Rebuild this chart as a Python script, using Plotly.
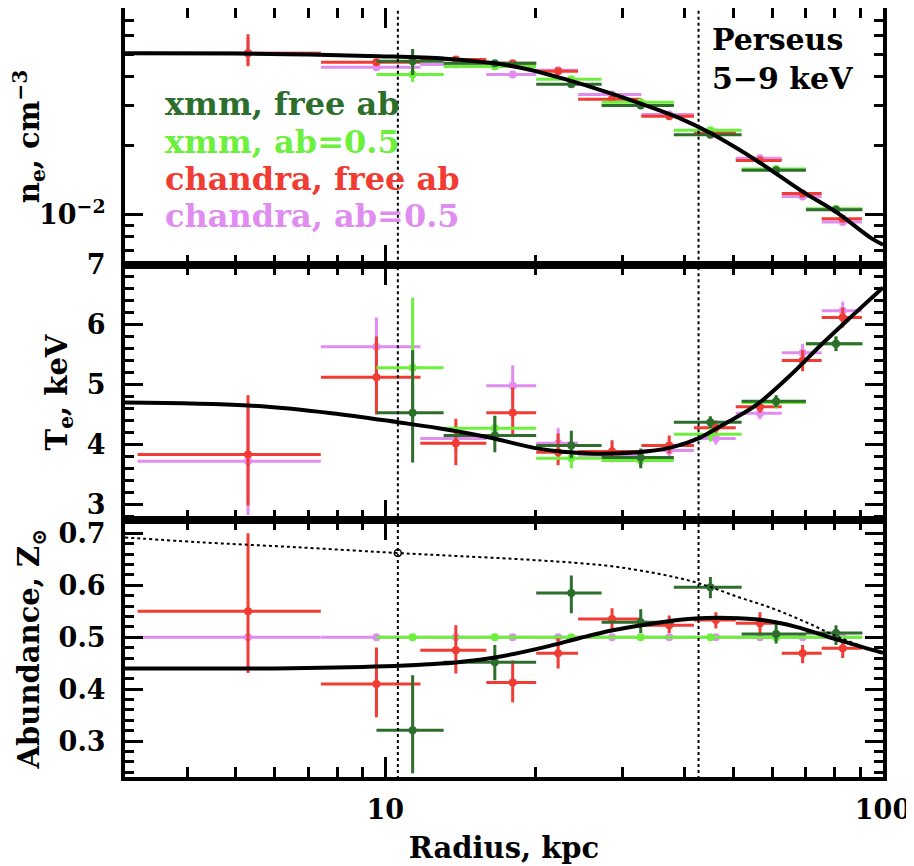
import plotly.graph_objects as go
from plotly.subplots import make_subplots

# ---------------- data ----------------
# Chandra radial bins (kpc): centres and half widths
ch_r = [5.3, 9.6, 13.86, 18.03, 22.25, 28.55, 37.2, 46.15, 56.6, 68.95, 83.0]
ch_dr = [2.12, 2.17, 2.1, 2.07, 2.15, 4.15, 4.5, 4.45, 6.0, 6.35, 7.7]
# XMM radial bins (kpc)
xmm_r = [11.35, 16.6, 23.65, 32.6, 45.0, 61.0, 80.45]
xmm_dr = [1.75, 3.5, 3.55, 5.4, 7.0, 9.0, 10.45]

# electron density, cm^-3
ne_ch_free = [0.0505, 0.0461, 0.0474, 0.0456, 0.0421, 0.0318, 0.0268, 0.0226, 0.0172, 0.01235, 0.0096]
ne_ch_free_up = [0.0105, 0.0012, 0.0012, 0.0011, 0.0010, 0.0008, 0.0006, 0.0005, 0.0004, 0.0003, 0.0003]
ne_ch_free_dn = [0.0062, 0.0012, 0.0012, 0.0011, 0.0010, 0.0008, 0.0006, 0.0005, 0.0004, 0.0003, 0.0003]
ne_ch_fix = [0.0505, 0.0438, 0.0451, 0.0408, 0.0425, 0.0334, 0.0273, 0.0228, 0.0176, 0.0120, 0.0093]
ne_ch_fix_up = [0.0080, 0.0010, 0.0010, 0.0010, 0.0009, 0.0007, 0.0006, 0.0005, 0.0004, 0.0003, 0.0003]
ne_ch_fix_dn = [0.0050, 0.0010, 0.0010, 0.0010, 0.0009, 0.0007, 0.0006, 0.0005, 0.0004, 0.0003, 0.0003]
ne_xmm_free = [0.0466, 0.0456, 0.0370, 0.0299, 0.0223, 0.0156, 0.0105]
ne_xmm_free_up = [0.0060, 0.0012, 0.0009, 0.0007, 0.0005, 0.0004, 0.0003]
ne_xmm_free_dn = [0.0060, 0.0012, 0.0009, 0.0007, 0.0005, 0.0004, 0.0003]
ne_xmm_fix = [0.0408, 0.0442, 0.0389, 0.0309, 0.0233, 0.0158, 0.0106]
ne_xmm_fix_up = [0.0050, 0.0011, 0.0009, 0.0007, 0.0005, 0.0004, 0.0003]
ne_xmm_fix_dn = [0.0030, 0.0011, 0.0009, 0.0007, 0.0005, 0.0004, 0.0003]

# temperature, keV
t_ch_free = [3.83, 5.12, 4.02, 4.53, 3.87, 3.88, 3.98, 4.28, 4.63, 5.40, 6.12]
t_ch_free_up = [0.99, 0.68, 0.41, 0.42, 0.31, 0.19, 0.17, 0.12, 0.10, 0.17, 0.16]
t_ch_free_dn = [0.85, 0.62, 0.37, 0.38, 0.22, 0.11, 0.13, 0.12, 0.10, 0.18, 0.17]
t_ch_fix = [3.72, 5.63, 4.10, 4.98, 4.02, 3.82, 3.90, 4.10, 4.52, 5.53, 6.23]
t_ch_fix_up = [0.90, 0.49, 0.20, 0.34, 0.25, 0.15, 0.12, 0.10, 0.10, 0.15, 0.15]
t_ch_fix_dn = [0.90, 0.45, 0.20, 0.30, 0.20, 0.12, 0.12, 0.10, 0.10, 0.15, 0.15]
t_xmm_free = [4.53, 4.15, 3.98, 3.78, 4.37, 4.72, 5.68]
t_xmm_free_up = [1.04, 0.33, 0.25, 0.15, 0.10, 0.10, 0.12]
t_xmm_free_dn = [0.83, 0.28, 0.21, 0.18, 0.10, 0.10, 0.12]
t_xmm_fix = [5.28, 4.27, 3.77, 3.73, 4.17, 4.70, 5.68]
t_xmm_fix_up = [1.17, 0.20, 0.15, 0.10, 0.12, 0.10, 0.12]
t_xmm_fix_dn = [1.00, 0.20, 0.17, 0.10, 0.12, 0.10, 0.12]

# abundance, solar
z_ch_free = [0.55, 0.41, 0.475, 0.413, 0.469, 0.535, 0.523, 0.533, 0.527, 0.469, 0.479]
z_ch_free_up = [0.15, 0.07, 0.048, 0.042, 0.029, 0.021, 0.019, 0.015, 0.021, 0.016, 0.011]
z_ch_free_dn = [0.119, 0.064, 0.045, 0.038, 0.029, 0.022, 0.015, 0.016, 0.023, 0.019, 0.019]
z_ch_fix = [0.5, 0.5, 0.5, 0.5, 0.5, 0.5, 0.5, 0.5, 0.5, 0.5, 0.5]
z_xmm_free = [0.321, 0.452, 0.585, 0.529, 0.596, 0.506, 0.508]
z_xmm_free_up = [0.106, 0.033, 0.034, 0.025, 0.020, 0.021, 0.015]
z_xmm_free_dn = [0.083, 0.035, 0.039, 0.021, 0.021, 0.018, 0.023]
z_xmm_fix = [0.5, 0.5, 0.5, 0.5, 0.5, 0.5, 0.5]

# model curves (sampled from the figure)
ne_mod_r = [3, 5, 7, 9.7, 13.2, 16.6, 19.4, 22.6, 26.4, 30.8, 38.9, 45.1, 56.2, 69.3, 80.3, 95, 100]
ne_mod = [0.0505, 0.0503, 0.0498, 0.0490, 0.0478, 0.0456, 0.0429, 0.0393, 0.0355, 0.0318, 0.0264, 0.0226, 0.0170, 0.0125, 0.0103, 0.00786, 0.0074]
t_mod_r = [3, 5.3, 7.8, 10.6, 12.8, 16.1, 20.3, 25.6, 32.3, 37.6, 42.6, 47.5, 55.5, 64.5, 75.5, 88.1, 100]
t_mod = [4.70, 4.65, 4.52, 4.37, 4.27, 4.12, 3.93, 3.85, 3.87, 3.95, 4.10, 4.32, 4.65, 5.12, 5.68, 6.20, 6.62]
z_mod_r = [3, 6, 10, 12.2, 14.0, 16.6, 20.9, 24.5, 28.5, 35.9, 42.0, 49.0, 57.2, 66.9, 78.0, 91, 100]
z_mod = [0.44, 0.44, 0.444, 0.448, 0.452, 0.461, 0.481, 0.498, 0.513, 0.529, 0.536, 0.537, 0.533, 0.52, 0.50, 0.481, 0.47]
z_dot_r = [3, 4.2, 6.7, 10.6, 12.8, 20.3, 27.7, 35.0, 42.6, 51.3, 59.8, 70.0, 81.5, 95.2, 100]
z_dot = [0.692, 0.683, 0.673, 0.662, 0.658, 0.648, 0.638, 0.623, 0.604, 0.577, 0.556, 0.529, 0.50, 0.475, 0.468]

vlines_r = [10.6, 42.6]

legend_labels = ["xmm, free ab", "xmm, ab=0.5", "chandra, free ab", "chandra, ab=0.5"]

# ---------------- styling ----------------
DKG = "#2d6e2d"
LTG = "#6cf03c"
RED = "#f03c32"
VIO = "#e08cf0"
FONT = "DejaVu Serif"
FS = 27      # tick labels
FT = 29      # titles / texts

fig = make_subplots(rows=3, cols=1, shared_xaxes=True, vertical_spacing=0)


def add_series(row, x, dx, y, up, dn, color):
    ey = dict(type="data", visible=False)
    if up is not None:
        ey = dict(type="data", symmetric=False, array=up, arrayminus=dn,
                  color=color, thickness=3, width=0)
    fig.add_trace(go.Scatter(
        x=x, y=y, mode="markers",
        marker=dict(color=color, size=8, symbol="circle"),
        error_x=dict(type="data", array=dx, color=color, thickness=3, width=0),
        error_y=ey, showlegend=False, hoverinfo="skip"), row=row, col=1)


# panel 1: density
add_series(1, ch_r, ch_dr, ne_ch_fix, ne_ch_fix_up, ne_ch_fix_dn, VIO)
add_series(1, ch_r, ch_dr, ne_ch_free, ne_ch_free_up, ne_ch_free_dn, RED)
add_series(1, xmm_r, xmm_dr, ne_xmm_fix, ne_xmm_fix_up, ne_xmm_fix_dn, LTG)
add_series(1, xmm_r, xmm_dr, ne_xmm_free, ne_xmm_free_up, ne_xmm_free_dn, DKG)
fig.add_trace(go.Scatter(x=ne_mod_r, y=ne_mod, mode="lines", line=dict(color="black", width=4, shape="spline"),
                         showlegend=False, hoverinfo="skip"), row=1, col=1)

# panel 2: temperature
add_series(2, ch_r, ch_dr, t_ch_fix, t_ch_fix_up, t_ch_fix_dn, VIO)
add_series(2, ch_r, ch_dr, t_ch_free, t_ch_free_up, t_ch_free_dn, RED)
add_series(2, xmm_r, xmm_dr, t_xmm_fix, t_xmm_fix_up, t_xmm_fix_dn, LTG)
add_series(2, xmm_r, xmm_dr, t_xmm_free, t_xmm_free_up, t_xmm_free_dn, DKG)
fig.add_trace(go.Scatter(x=t_mod_r, y=t_mod, mode="lines", line=dict(color="black", width=4, shape="spline"),
                         showlegend=False, hoverinfo="skip"), row=2, col=1)

# panel 3: abundance
add_series(3, ch_r, ch_dr, z_ch_fix, None, None, VIO)
add_series(3, xmm_r, xmm_dr, z_xmm_fix, None, None, LTG)
add_series(3, ch_r, ch_dr, z_ch_free, z_ch_free_up, z_ch_free_dn, RED)
add_series(3, xmm_r, xmm_dr, z_xmm_free, z_xmm_free_up, z_xmm_free_dn, DKG)
fig.add_trace(go.Scatter(x=z_mod_r, y=z_mod, mode="lines", line=dict(color="black", width=4, shape="spline"),
                         showlegend=False, hoverinfo="skip"), row=3, col=1)
fig.add_trace(go.Scatter(x=z_dot_r, y=z_dot, mode="lines", line=dict(color="black", width=2, dash="dot", shape="spline"),
                         showlegend=False, hoverinfo="skip"), row=3, col=1)
fig.add_trace(go.Scatter(x=[vlines_r[0]], y=[z_dot[3]], mode="markers",
                         marker=dict(symbol="circle-open", size=7, color="black", line=dict(width=1.5)),
                         showlegend=False, hoverinfo="skip"), row=3, col=1)

# vertical dotted lines through all panels
yranges = {1: [0.005, 0.1], 2: [2.0, 8.0], 3: [0.1, 0.9]}
for row in (1, 2, 3):
    for xv in vlines_r:
        fig.add_trace(go.Scatter(x=[xv, xv], y=yranges[row], mode="lines",
                                 line=dict(color="black", width=2, dash="dot"),
                                 showlegend=False, hoverinfo="skip"), row=row, col=1)

tickfont = dict(family=FONT, size=FS, color="black", weight="bold")
titlefont = dict(family=FONT, size=FT, color="black", weight="bold")
common_axis = dict(showline=True, linecolor="black", linewidth=4, mirror="allticks",
                   ticks="inside", tickcolor="black", tickwidth=3, showgrid=False,
                   zeroline=False, tickfont=tickfont, automargin=False)

x_minor = [4, 5, 6, 7, 8, 9, 20, 30, 40, 50, 60, 70, 80, 90]
for i, ax in enumerate(["xaxis", "xaxis2", "xaxis3"]):
    fig.layout[ax].update(type="log", range=[0.4771, 2.0], tickmode="array",
                          tickvals=[10, 100], ticktext=["10", "100"], ticklen=20,
                          minor=dict(tickmode="array", tickvals=x_minor, ticks="inside",
                                     ticklen=10, tickwidth=3, tickcolor="black", showgrid=False),
                          showticklabels=(i == 2), ticklabelstandoff=6, **common_axis)
fig.layout.xaxis3.title = dict(text="Radius, kpc", font=titlefont, standoff=14)

fig.layout.yaxis.update(type="log", range=[-2.218, -1.100], tickmode="array",
                        tickvals=[0.01], ticktext=["10<sup>\u22122</sup>"], ticklen=18,
                        minor=dict(tickmode="array",
                                   tickvals=[0.007, 0.008, 0.009, 0.02, 0.03, 0.04, 0.05, 0.06, 0.07],
                                   ticks="inside", ticklen=9, tickwidth=3, tickcolor="black", showgrid=False),
                        ticklabelstandoff=10,
                        title=dict(text="n<sub>e</sub>, cm<sup>\u22123</sup>", standoff=6, font=titlefont),
                        domain=[0.6662, 1.0], **common_axis)
fig.layout.yaxis2.update(range=[2.733, 7.0], tickmode="array", tickvals=[3, 4, 5, 6, 7],
                         ticktext=["3", "4", "5", "6", "7"], ticklen=18,
                         minor=dict(dtick=0.2, ticks="inside", ticklen=9, tickwidth=3,
                                    tickcolor="black", showgrid=False),
                         ticklabelstandoff=10,
                         title=dict(text="T<sub>e</sub>, keV", standoff=12, font=titlefont),
                         domain=[0.3338, 0.6662], **common_axis)
fig.layout.yaxis3.update(range=[0.231, 0.725], tickmode="array", tickvals=[0.3, 0.4, 0.5, 0.6, 0.7],
                         ticktext=["0.3", "0.4", "0.5", "0.6", "0.7"], ticklen=18,
                         minor=dict(dtick=0.02, ticks="inside", ticklen=9, tickwidth=3,
                                    tickcolor="black", showgrid=False),
                         ticklabelstandoff=10,
                         title=dict(text="Abundance, Z<sub>\u2299</sub>", standoff=11, font=titlefont),
                         domain=[0.0, 0.3338], **common_axis)

# legend as coloured text
leg_colors = [DKG, LTG, RED, VIO]
leg_y = [0.875, 0.826, 0.777, 0.729]
for lab, col, yy in zip(legend_labels, leg_colors, leg_y):
    fig.add_annotation(x=0.05, y=yy, xref="paper", yref="paper", text=lab, showarrow=False,
                       xanchor="left", yanchor="middle",
                       font=dict(family=FONT, size=32, color=col, weight="bold"))
fig.add_annotation(x=0.772, y=0.985, xref="paper", yref="paper", text="Perseus<br>5\u22129 keV",
                   showarrow=False, xanchor="left", yanchor="top", align="left",
                   font=dict(family=FONT, size=30, color="black", weight="bold"))

# page body adds an 8 px offset, so the figure is drawn 8 px smaller
fig.update_layout(width=906, height=858, margin=dict(l=117, r=31, t=0, b=89),
                  paper_bgcolor="white", plot_bgcolor="white", showlegend=False)

fig.write_html("out.html")
